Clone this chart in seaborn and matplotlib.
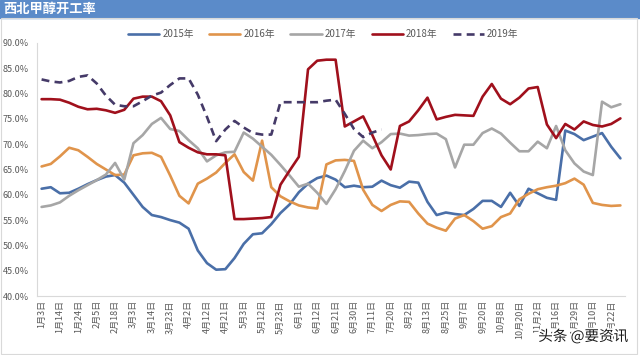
import numpy as np
import pandas as pd
import matplotlib
matplotlib.use('Agg')
import matplotlib.pyplot as plt
import seaborn as sns
from matplotlib import patheffects as pe
from matplotlib.patches import Rectangle

# 64 weekly points per year, only every second one is labelled on the axis
tick_labels = ['1月3日', '1月14日', '1月24日', '2月5日', '2月18日', '3月3日', '3月14日', '3月23日',
               '4月2日', '4月12日', '4月21日', '5月3日', '5月12日', '5月23日', '6月1日', '6月12日',
               '6月21日', '6月30日', '7月11日', '7月20日', '8月2日', '8月13日', '8月25日', '9月7日',
               '9月20日', '10月8日', '10月20日', '11月2日', '11月16日', '11月29日', '12月10日', '12月22日']
week = np.arange(64)

years = ['2015年', '2016年', '2017年', '2018年', '2019年']

rate_2015 = [61.2, 61.5, 60.3, 60.4, 61.2, 62.1, 62.9, 63.6, 63.9, 62.4,
             60.0, 57.6, 56.0, 55.6, 55.0, 54.5, 53.3, 49.0, 46.5, 45.2,
             45.3, 47.5, 50.3, 52.2, 52.4, 54.2, 56.4, 58.1, 60.5, 62.2,
             63.3, 63.8, 63.0, 61.5, 61.8, 61.5, 61.6, 62.8, 61.9, 61.4,
             62.6, 62.4, 58.6, 56.0, 56.5, 56.2, 56.0, 57.2, 58.8, 58.8,
             57.6, 60.4, 57.8, 61.2, 60.3, 59.4, 59.0, 72.7, 72.0, 70.8,
             71.5, 72.2, 69.5, 67.2]
rate_2016 = [65.6, 66.1, 67.6, 69.3, 68.8, 67.5, 66.1, 65.0, 63.9, 64.0,
             67.8, 68.2, 68.3, 67.5, 63.8, 59.8, 58.3, 62.2, 63.2, 64.4,
             66.3, 68.0, 64.5, 62.8, 70.7, 61.5, 59.7, 58.7, 57.9, 57.5,
             57.3, 66.0, 66.8, 66.9, 66.7, 61.0, 58.0, 56.8, 58.0, 58.7,
             58.6, 56.3, 54.3, 53.5, 52.9, 55.3, 56.0, 54.8, 53.3, 53.8,
             55.6, 56.3, 59.1, 60.2, 61.1, 61.5, 61.8, 62.3, 63.2, 62.0,
             58.4, 58.0, 57.8, 57.9]
rate_2017 = [57.6, 57.9, 58.5, 59.8, 60.9, 61.9, 62.9, 64.0, 66.3, 63.0,
             70.2, 71.8, 74.0, 75.2, 73.0, 72.6, 70.8, 69.2, 66.6, 67.8,
             68.4, 68.5, 72.3, 71.1, 69.5, 67.9, 65.9, 63.8, 61.6, 62.2,
             60.4, 58.2, 61.1, 64.7, 68.7, 70.7, 69.2, 70.4, 72.0, 72.1,
             71.7, 71.8, 72.0, 72.1, 71.0, 65.4, 69.9, 69.9, 72.2, 73.1,
             72.1, 70.3, 68.6, 68.6, 70.5, 69.2, 73.6, 68.8, 66.2, 64.6,
             63.9, 78.4, 77.3, 77.9]
rate_2018 = [78.9, 78.9, 78.8, 78.2, 77.4, 76.9, 77.0, 76.7, 76.2, 76.8,
             79.0, 79.4, 79.4, 78.5, 75.7, 70.4, 69.3, 68.4, 68.0, 68.0,
             67.8, 55.2, 55.2, 55.3, 55.4, 55.6, 62.0, 64.8, 67.5, 84.8,
             86.5, 86.7, 86.7, 73.5, 74.5, 75.5, 71.8, 67.8, 65.0, 73.6,
             74.5, 76.7, 79.2, 74.9, 75.4, 75.8, 75.7, 75.6, 79.4, 81.9,
             79.0, 77.9, 79.2, 81.0, 81.3, 73.9, 71.2, 74.0, 72.9, 74.5,
             73.8, 73.5, 74.0, 75.1]
rate_2019 = [82.8, 82.4, 82.2, 82.5, 83.3, 83.6, 82.0, 79.6, 77.8, 77.5,
             77.5, 78.5, 79.6, 80.2, 81.7, 83.0, 83.0, 79.8, 75.4, 70.6,
             72.9, 74.6, 73.3, 72.2, 71.9, 71.9, 78.3, 78.3, 78.3, 78.3,
             78.3, 78.6, 78.8, 76.0, 73.0, 71.4, 72.3, 72.9] + [np.nan] * 26

colors = ['#4A6FA8', '#E0944B', '#A6A6A6', '#A0101C', '#453A68']
dash_map = {'2015年': '', '2016年': '', '2017年': '', '2018年': '', '2019年': (3, 2)}

df = pd.DataFrame({
    'week': np.tile(week, 5),
    'rate': np.concatenate([rate_2015, rate_2016, rate_2017, rate_2018, rate_2019]),
    'year': np.repeat(years, 64),
}).dropna()

sns.set_style('white')
plt.rcParams['font.family'] = ['Noto Sans CJK SC', 'DejaVu Sans']

fig = plt.figure(figsize=(6.4, 3.55), dpi=100)
ax = fig.add_axes([37 / 640, 59 / 355, 588 / 640, 253 / 355])

sns.lineplot(data=df, x='week', y='rate', hue='year', style='year',
             palette=dict(zip(years, colors)), dashes=dash_map,
             linewidth=1.9, ax=ax)

handles, labels = ax.get_legend_handles_labels()
ax.get_legend().remove()
fig.legend(handles, labels, loc='center', bbox_to_anchor=(0.505, 0.904), ncol=5,
           frameon=False, fontsize=7, handlelength=3.2, handletextpad=0.3,
           columnspacing=1.6, labelcolor='#595959')

ax.set_xlim(-0.5, 63.5)
ax.set_ylim(40, 90)
ax.set_xticks(np.arange(-0.5, 64, 2))
ax.set_xticks(np.arange(0, 64, 2), minor=True)
ax.set_xticklabels(tick_labels, minor=True, rotation=90, fontsize=6.5, color='#595959')
ax.tick_params(axis='x', which='major', length=4, color='#D9D9D9', labelbottom=False)
ax.tick_params(axis='x', which='minor', length=0, pad=3)

yt = np.arange(40, 91, 5)
ax.set_yticks(yt)
ax.set_yticklabels([f'{v:.1f}%' for v in yt], fontsize=6.5, color='#595959')
ax.tick_params(axis='y', length=4, color='#D9D9D9', pad=2)
ax.set_xlabel('')
ax.set_ylabel('')

for s in ['top', 'right']:
    ax.spines[s].set_visible(False)
for s in ['left', 'bottom']:
    ax.spines[s].set_color('#D9D9D9')
    ax.spines[s].set_linewidth(0.8)

# blue title bar and chart border
fig.patches.append(Rectangle((0, 1 - 18 / 355), 1, 18 / 355, transform=fig.transFigure,
                             color='#5B8BC9', zorder=0))
fig.patches.append(Rectangle((0.002, 0.003), 0.994, 1 - 18 / 355 - 0.003, transform=fig.transFigure,
                             fill=False, edgecolor='#D9D9D9', lw=0.8))
fig.text(0.006, 1 - 9 / 355, '西北甲醇开工率', color='white', fontsize=9.5,
         fontweight='bold', va='center')

fig.text(0.982, 0.052, '头条 @要资讯', ha='right', va='center', fontsize=10.5, color='#1a1a1a',
         path_effects=[pe.withStroke(linewidth=2.5, foreground='white')])

fig.savefig('out.png', dpi=100)
